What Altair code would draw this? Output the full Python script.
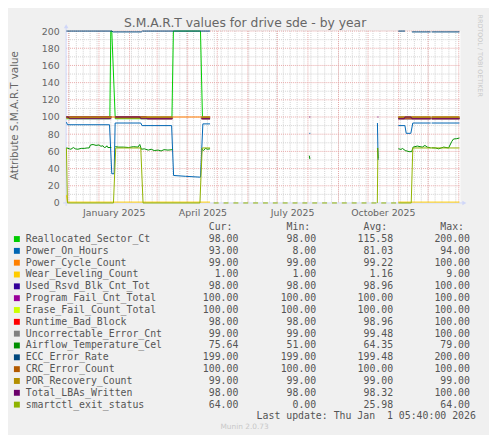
import altair as alt
import pandas as pd

# ---------------- texts ----------------
TITLE = "S.M.A.R.T values for drive sde - by year"
Y_TITLE = "Attribute S.M.A.R.T value"
WATERMARK = "RRDTOOL / TOBI OETIKER"
FOOTER = "Munin 2.0.73"
LAST_UPDATE = "Last update: Thu Jan \u00a01 05:40:00 2026"
HEADERS = ["Cur:", "Min:", "Avg:", "Max:"]

# ---------------- axes (x = days since 2025-01-01) ----------------
X_DOMAIN = [-33.3, 366.7]
Y_DOMAIN = [0, 200]
TICK_DAYS = [15, 105, 196, 288]
TICK_LABELS = ["January 2025", "April 2025", "July 2025", "October 2025"]
Y_TICKS = [0, 20, 40, 60, 80, 100, 120, 140, 160, 180, 200]
Y_MINOR = [10, 30, 50, 70, 90, 110, 130, 150, 170, 190]

# ---------------- legend table ----------------
SERIES = ["Reallocated_Sector_Ct", "Power_On_Hours", "Power_Cycle_Count",
          "Wear_Leveling_Count", "Used_Rsvd_Blk_Cnt_Tot", "Program_Fail_Cnt_Total",
          "Erase_Fail_Count_Total", "Runtime_Bad_Block", "Uncorrectable_Error_Cnt",
          "Airflow_Temperature_Cel", "ECC_Error_Rate", "CRC_Error_Count",
          "POR_Recovery_Count", "Total_LBAs_Written", "smartctl_exit_status"]
COLORS = ["#00CC00", "#0066B3", "#FF8000", "#FFCC00", "#330099", "#990099",
          "#CCFF00", "#FF0000", "#808080", "#008F00", "#00487D", "#B35A00",
          "#B38F00", "#6B006B", "#8FB300"]
CUR = [98.00, 93.00, 99.00, 1.00, 98.00, 100.00, 100.00, 98.00, 99.00, 75.64,
       199.00, 100.00, 99.00, 98.00, 64.00]
MIN = [98.00, 8.00, 99.00, 1.00, 98.00, 100.00, 100.00, 98.00, 99.00, 51.00,
       199.00, 100.00, 99.00, 98.00, 0.00]
AVG = [115.58, 81.03, 99.22, 1.16, 98.96, 100.00, 100.00, 98.96, 99.48, 64.35,
       199.48, 100.00, 99.00, 98.32, 25.98]
MAX = [200.00, 94.00, 100.00, 9.00, 100.00, 100.00, 100.00, 100.00, 100.00, 79.00,
       200.00, 100.00, 99.00, 100.00, 64.00]

# ---------------- series (segments of (day, value)) ----------------
reallocated = [
    [(-33, 98), (11, 98), (12, 200), (13, 200), (16.5, 98), (74, 98), (75.5, 200),
     (103, 200), (105, 98), (112.7, 98)],
    [(303.7, 98), (336.5, 98)], [(337.5, 98), (365.7, 98)],
]
power_on = [
    [(-33, 94), (-32, 91), (10.7, 91), (13, 34), (15.4, 34), (16.4, 93), (42.4, 93),
     (43.7, 90), (73.7, 90), (75.7, 32), (88, 31), (103, 30), (105.4, 92), (112.7, 92)],
    [(213.4, 81), (214.4, 81)],
    [(282.5, 93), (283.2, 50)],
    [(303.7, 90), (310.4, 90), (311.7, 81), (316.4, 81), (318.4, 93), (336.5, 93)],
    [(337.5, 93), (365.7, 93)],
]
power_cycle = [
    [(-33, 99), (11, 99), (12, 100), (16.5, 100), (17.5, 99), (74, 99), (75, 100),
     (104, 100), (105, 99), (112.7, 99)],
    [(303.7, 99), (336.5, 99)], [(337.5, 99), (365.7, 99)],
]
wear_leveling = [
    [(-33, 9), (-32, 1), (112.7, 1)],
    [(303.7, 1), (365.7, 1)],
]
used_rsvd = [
    [(-33, 100), (12.5, 100)],
    [(16.5, 100), (48, 100), (49, 98), (74.5, 98)],
    [(104, 98), (112.7, 98)],
    [(303.7, 98), (336.5, 98)], [(337.5, 98), (365.7, 98)],
]
program_fail = [
    [(-33, 100), (12.5, 100)], [(16.5, 100), (74.5, 100)], [(104, 100), (112.7, 100)],
    [(303.7, 100), (336.5, 100)], [(337.5, 100), (365.7, 100)],
]
erase_fail = [
    [(-33, 100), (12.5, 100)], [(16.5, 100), (74.5, 100)], [(104, 100), (112.7, 100)],
    [(303.7, 100), (336.5, 100)], [(337.5, 100), (365.7, 100)],
]
runtime_bad = [
    [(-33, 100), (12.5, 100)],
    [(16.5, 100), (48, 100), (49, 98), (74.5, 98)],
    [(104, 98), (112.7, 98)],
    [(303.7, 98), (336.5, 98)], [(337.5, 98), (365.7, 98)],
]
uncorrectable = [
    [(-33, 100), (12.5, 100)],
    [(16.5, 100), (48, 100), (49, 99), (74.5, 99)],
    [(104, 99), (112.7, 99)],
    [(303.7, 99), (336.5, 99)], [(337.5, 99), (365.7, 99)],
]
airflow = [
    [(-33, 64.2), (-30, 63), (-28.5, 62.5), (-26, 64.5), (-24, 63), (-21.5, 62.5),
     (-18, 63.5), (-15, 63.5), (-12, 64), (-10, 64), (-8.6, 67.5), (-6, 68), (-3, 67),
     (0, 67.5), (2, 66), (4, 66.5), (5.5, 64.5), (7, 65), (8, 66.5), (9, 64.5), (12.5, 64.5)],
    [(16.5, 65.5), (20, 65), (25, 65), (30, 64.5), (35, 65.5), (39.5, 65), (41.4, 68),
     (43, 62.5), (46, 63), (50, 61.5), (53, 62.5), (56, 61), (60, 61.5), (63, 60.5),
     (66, 62), (70, 61.5), (74.5, 62)],
    [(104, 63), (106, 61), (108, 63.5), (110, 62.5), (112.7, 63)],
    [(213.4, 55), (214, 51)],
    [(282.5, 64), (283.2, 52)],
    [(303.7, 63.1), (306.4, 62.3), (308, 63.4), (310.7, 61), (314.7, 59.7), (317.3, 59.7),
     (318.7, 65), (323, 66.2), (328, 65), (330.7, 66.9), (333, 65), (336.5, 64.2)],
    [(337.5, 64.2), (341.3, 64), (344.7, 63), (349.7, 65), (354.7, 64), (358, 71.7),
     (359.7, 74.4), (363, 74.8), (365.7, 75.6)],
]
ecc = [
    [(-33, 200), (13, 200), (14.5, 199), (43, 199), (44, 200), (112.7, 200)],
    [(303.7, 200), (310.5, 200)],
    [(317.5, 199), (336.5, 199)], [(337.5, 199), (365.7, 199)],
]
crc = [
    [(-33, 100), (12.5, 100)], [(16.5, 100), (74.5, 100)], [(104, 100), (112.7, 100)],
    [(303.7, 100), (336.5, 100)], [(337.5, 100), (365.7, 100)],
]
por = [
    [(-33, 99), (12.5, 99)], [(16.5, 99), (74.5, 99)], [(104, 99), (112.7, 99)],
    [(303.7, 99), (336.5, 99)], [(337.5, 99), (365.7, 99)],
]
total_lbas = [
    [(-33, 100), (-31, 100), (-30, 98), (12.5, 98)],
    [(16.5, 100), (41.5, 100), (42.5, 98), (74.5, 98)],
    [(104, 98), (112.7, 98)],
    [(213.4, 100), (214.4, 100)],
    [(282.5, 100), (283.5, 100)],
    [(303.7, 98), (309.7, 98), (310.5, 100), (316.5, 100), (317.5, 98), (336.5, 98)],
    [(337.5, 98), (365.7, 98)],
]
SMART_DASH_START = [116.4, 126.4, 136.4, 146.4, 156.4, 166.4, 176.4, 186.4, 196.4,
                    206.4, 216.4, 226.4, 236.4, 246.4, 256.4, 266.4, 276.4, 286.4, 296.4]
SMART_DASH_END = [121.4, 131.4, 141.4, 151.4, 161.4, 171.4, 181.4, 191.4, 201.4,
                  211.4, 221.4, 231.4, 241.4, 251.4, 261.4, 271.4, 281.4, 291.4, 301.4]
smartctl = [
    [(-33, 64), (-32, 0), (14.7, 0), (17, 64), (42.4, 64), (44.7, 0), (102.4, 0),
     (104.7, 64), (112.7, 64)],
    [(282.4, 0), (283, 64)],
    [(303.7, 0), (316.8, 0), (318.4, 64), (365.7, 64)],
] + [[(s, 0), (e, 0)] for s, e in zip(SMART_DASH_START, SMART_DASH_END)]

SEGMENTS = [reallocated, power_on, power_cycle, wear_leveling, used_rsvd, program_fail,
            erase_fail, runtime_bad, uncorrectable, airflow, ecc, crc, por, total_lbas,
            smartctl]

# ---------------- layout (pixels, relative to plot area) ----------------
W, H = 400, 174.4
PAD = {"left": 59, "top": 20.3, "right": 29, "bottom": 232}
FONT = "DejaVu Sans"
MONO = "DejaVu Sans Mono"
FONT_COLOR = "#666666"
LEG_COLOR = "#555555"
AXIS_COLOR = "#CFD6F8"
MAJOR_GRID = "#E8A8A8"
MINOR_GRID = "#D2D2D2"

BASE = pd.Timestamp("2025-01-01")
MONTH_STARTS = [(d - BASE).days for d in pd.date_range("2024-12-01", "2026-01-01", freq="MS")]
WEEK_STARTS = [(d - BASE).days for d in pd.date_range("2024-12-02", "2025-12-31", freq="W-MON")]

label_expr = "''"
for d, lab in reversed(list(zip(TICK_DAYS, TICK_LABELS))):
    label_expr = f"datum.value == {d} ? '{lab}' : ({label_expr})"

x_scale = alt.Scale(domain=X_DOMAIN, nice=False, zero=False)
y_scale = alt.Scale(domain=Y_DOMAIN, nice=False, zero=False)
x_axis = alt.Axis(values=TICK_DAYS, labelExpr=label_expr, grid=False, domain=False,
                  ticks=False, labelPadding=5, labelFontSize=9.5, labelColor=FONT_COLOR,
                  labelFont=FONT, labelFlush=False, labelOverlap=False)
y_axis = alt.Axis(values=Y_TICKS, grid=False, domain=False, ticks=False, labelPadding=7,
                  labelFontSize=9.5, labelColor=FONT_COLOR, labelFont=FONT,
                  labelOverlap=False, labelFlush=False)


def xenc(field="day"):
    return alt.X(f"{field}:Q", scale=x_scale, axis=x_axis, title=None)


def yenc(field="value"):
    return alt.Y(f"{field}:Q", scale=y_scale, axis=y_axis, title=None)


layers = []

# grid lines
layers.append(alt.Chart(pd.DataFrame({"day": WEEK_STARTS})).mark_rule(
    color=MINOR_GRID, strokeWidth=1, strokeDash=[1, 1]).encode(
    x=xenc(), y=alt.value(0), y2=alt.value(H)))
layers.append(alt.Chart(pd.DataFrame({"value": Y_MINOR})).mark_rule(
    color=MINOR_GRID, strokeWidth=1, strokeDash=[1, 1]).encode(
    y=yenc(), x=alt.value(0), x2=alt.value(W)))
layers.append(alt.Chart(pd.DataFrame({"day": MONTH_STARTS})).mark_rule(
    color=MAJOR_GRID, strokeWidth=1, strokeDash=[1, 1]).encode(
    x=xenc(), y=alt.value(0), y2=alt.value(H)))
layers.append(alt.Chart(pd.DataFrame({"value": Y_TICKS[1:]})).mark_rule(
    color=MAJOR_GRID, strokeWidth=1, strokeDash=[1, 1]).encode(
    y=yenc(), x=alt.value(0), x2=alt.value(W)))

# axis lines + arrows
one = pd.DataFrame({"k": [0]})
layers.append(alt.Chart(one).mark_rule(color=AXIS_COLOR, strokeWidth=1).encode(
    x=alt.value(0), y=alt.value(-5), y2=alt.value(H + 3)))
layers.append(alt.Chart(one).mark_rule(color=AXIS_COLOR, strokeWidth=1).encode(
    x=alt.value(-3), x2=alt.value(W + 3), y=alt.value(H)))
layers.append(alt.Chart(one).mark_point(shape="triangle-up", filled=True, size=22,
                                        color=AXIS_COLOR, opacity=1).encode(
    x=alt.value(0), y=alt.value(-5)))
layers.append(alt.Chart(one).mark_point(shape="triangle-right", filled=True, size=22,
                                        color=AXIS_COLOR, opacity=1).encode(
    x=alt.value(W + 4), y=alt.value(H)))

# data lines
for name, color, segs in zip(SERIES, COLORS, SEGMENTS):
    rows = []
    for si, seg in enumerate(segs):
        for i, (d, v) in enumerate(seg):
            rows.append({"seg": si, "i": i, "day": d, "value": v})
    df = pd.DataFrame(rows)
    layers.append(alt.Chart(df).mark_line(color=color, strokeWidth=1).encode(
        x=xenc(), y=yenc(), detail="seg:N", order="i:Q"))

# title, axis title, watermark
layers.append(alt.Chart(pd.DataFrame({"t": [TITLE]})).mark_text(
    font=FONT, fontSize=12.5, color=FONT_COLOR, align="center", baseline="alphabetic").encode(
    text="t:N", x=alt.value(181.5), y=alt.value(-4.3)))
layers.append(alt.Chart(pd.DataFrame({"t": [Y_TITLE]})).mark_text(
    font=FONT, fontSize=10.5, color=FONT_COLOR, align="center", baseline="middle",
    angle=270).encode(text="t:N", x=alt.value(-52), y=alt.value(85.7)))
layers.append(alt.Chart(pd.DataFrame({"t": [WATERMARK]})).mark_text(
    font=FONT, fontSize=6.5, color="#C8C8C8", align="center", baseline="middle",
    angle=90).encode(text="t:N", x=alt.value(420), y=alt.value(25)))

# legend table
leg = pd.DataFrame({"name": SERIES, "color": COLORS, "cur": CUR, "mn": MIN,
                    "avg": AVG, "mx": MAX, "row": list(range(len(SERIES)))})
leg_base = alt.Chart(leg).transform_calculate(py="211 + 12 * datum.row")
py = alt.Y("py:Q", scale=None, axis=None)
layers.append(leg_base.mark_square(size=36, opacity=1, filled=True).encode(
    x=alt.value(-50), y=py,
    color=alt.Color("name:N", scale=alt.Scale(domain=SERIES, range=COLORS), legend=None)))
layers.append(leg_base.mark_text(font=MONO, fontSize=10, color=LEG_COLOR, align="left",
                                 baseline="middle").encode(
    x=alt.value(-41), y=py, text="name:N"))
for col, xpos in [("cur", 174.7), ("mn", 253.7), ("avg", 331.7), ("mx", 409.7)]:
    layers.append(leg_base.mark_text(font=MONO, fontSize=10, color=LEG_COLOR,
                                     align="right", baseline="middle").encode(
        x=alt.value(xpos), y=py, text=alt.Text(f"{col}:Q", format=".2f")))
for lab, xpos in zip(HEADERS, [168.7, 247.7, 325.7, 403.7]):
    layers.append(alt.Chart(pd.DataFrame({"t": [lab]})).mark_text(
        font=MONO, fontSize=10, color=LEG_COLOR, align="right", baseline="middle").encode(
        text="t:N", x=alt.value(xpos), y=alt.value(199)))
layers.append(alt.Chart(pd.DataFrame({"t": [LAST_UPDATE]})).mark_text(
    font=MONO, fontSize=10, color=LEG_COLOR, align="right", baseline="middle").encode(
    text="t:N", x=alt.value(415.7), y=alt.value(391)))
layers.append(alt.Chart(pd.DataFrame({"t": [FOOTER]})).mark_text(
    font=FONT, fontSize=7.5, color="#C8C8C8", align="center", baseline="middle").encode(
    text="t:N", x=alt.value(181), y=alt.value(402)))

chart = alt.layer(*layers).properties(
    width=W, height=H,
    autosize=alt.AutoSizeParams(type="none"),
    padding=PAD,
    background="#F0F0F0",
).configure_view(stroke=None, fill="#FFFFFF")

chart.save("out.html", embed_options={"renderer": "svg", "actions": False})
